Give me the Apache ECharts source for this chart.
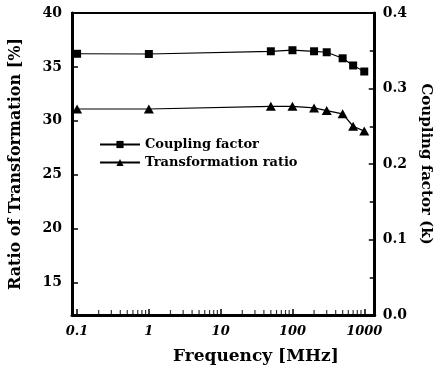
<!DOCTYPE html>
<html>
<head>
<meta charset="UTF-8">
<title>Coupling factor and transformation ratio vs frequency</title>
<script src="https://cdn.jsdelivr.net/npm/echarts@6/dist/echarts.min.js"></script>
<style>
  html, body { margin: 0; padding: 0; background: #fff; }
  #chart { width: 441px; height: 371px; }
</style>
</head>
<body>
<div id="chart"></div>
<script>
// frequency points (MHz)
const freq = [0.1, 1, 50, 100, 200, 300, 500, 700, 1000];
// coupling factor k (right axis)
const coupling = [0.346, 0.3457, 0.3493, 0.3507, 0.3493, 0.348, 0.340, 0.3305, 0.3225];
// ratio of transformation [%] (left axis)
const ratio = [31.1, 31.1, 31.35, 31.35, 31.2, 30.95, 30.65, 29.5, 29.05];

const xTickVals = [0.1, 1, 10, 100, 1000];
const xMinorVals = [0.2, 0.3, 0.4, 0.5, 0.6, 0.7, 0.8, 0.9,
  2, 3, 4, 5, 6, 7, 8, 9, 20, 30, 40, 50, 60, 70, 80, 90,
  200, 300, 400, 500, 600, 700, 800, 900];
const leftTickVals = [15, 20, 25, 30, 35, 40];

const font = 'DejaVu Serif';
const chart = echarts.init(document.getElementById('chart'));

chart.setOption({
  animation: false,
  grid: { left: 72, right: 58, top: 13, bottom: 56, show: true, borderColor: '#000', borderWidth: 2 },
  legend: {
    data: ['Coupling factor', 'Transformation ratio'],
    orient: 'vertical',
    left: 94, top: 133,
    itemWidth: 40, itemHeight: 9, itemGap: 5,
    textStyle: { fontFamily: font, fontWeight: 'bold', fontSize: 13, color: '#000' }
  },
  xAxis: {
    type: 'log', min: 0.085, max: 1400,
    name: 'Frequency [MHz]', nameLocation: 'middle', nameGap: 33,
    nameTextStyle: { fontFamily: font, fontWeight: 'bold', fontSize: 17, color: '#000', padding: [0, 0, 0, 65] },
    axisLine: { lineStyle: { color: '#000', width: 3 } },
    axisTick: { inside: true, length: 6, customValues: xTickVals, lineStyle: { color: '#000', width: 1.5 } },
    axisLabel: {
      customValues: xTickVals, margin: 10,
      fontFamily: font, fontWeight: 'bold', fontStyle: 'italic', fontSize: 13, color: '#000',
      formatter: v => String(+(+v).toPrecision(3))
    },
    splitLine: { show: false }
  },
  yAxis: [
    {
      type: 'value', min: 12, max: 40,
      name: 'Ratio of Transformation [%]', nameLocation: 'middle', nameGap: 48,
      nameTextStyle: { fontFamily: font, fontWeight: 'bold', fontSize: 16, color: '#000' },
      axisLine: { show: true, lineStyle: { color: '#000', width: 3 } },
      axisTick: { inside: true, length: 6, customValues: leftTickVals, lineStyle: { color: '#000', width: 1.5 } },
      axisLabel: { customValues: leftTickVals, margin: 10, fontFamily: font, fontWeight: 'bold', fontSize: 14, color: '#000' },
      splitLine: { show: false }
    },
    {
      type: 'value', min: 0, max: 0.4, interval: 0.1, position: 'right',
      name: 'Coupling factor (k)', nameLocation: 'middle', nameGap: 39, nameRotate: -90,
      nameTextStyle: { fontFamily: font, fontWeight: 'bold', fontSize: 15, color: '#000' },
      axisLine: { show: true, lineStyle: { color: '#000', width: 3 } },
      axisTick: { inside: true, length: 6, lineStyle: { color: '#000', width: 1.5 } },
      minorTick: { show: true, splitNumber: 2, length: 5, lineStyle: { color: '#000', width: 1.5 } },
      axisLabel: { margin: 8, fontFamily: font, fontWeight: 'bold', fontSize: 14, color: '#000', formatter: v => v.toFixed(1) },
      splitLine: { show: false }
    }
  ],
  series: [
    {
      name: 'Coupling factor', type: 'line', yAxisIndex: 1,
      data: freq.map((f, i) => [f, coupling[i]]),
      symbol: 'rect', symbolSize: 8,
      itemStyle: { color: '#000' },
      lineStyle: { color: '#000', width: 1.2 }
    },
    {
      name: 'Transformation ratio', type: 'line', yAxisIndex: 0,
      data: freq.map((f, i) => [f, ratio[i]]),
      symbol: 'triangle', symbolSize: [10, 9],
      itemStyle: { color: '#000' },
      lineStyle: { color: '#000', width: 1.2 }
    },
    {
      // minor log ticks along the bottom axis
      type: 'scatter', yAxisIndex: 0, silent: true,
      data: xMinorVals.map(v => [v, 12]),
      symbol: 'rect', symbolSize: [1.2, 4], symbolOffset: [0, -3],
      itemStyle: { color: '#000' }
    }
  ]
});
</script>
</body>
</html>
